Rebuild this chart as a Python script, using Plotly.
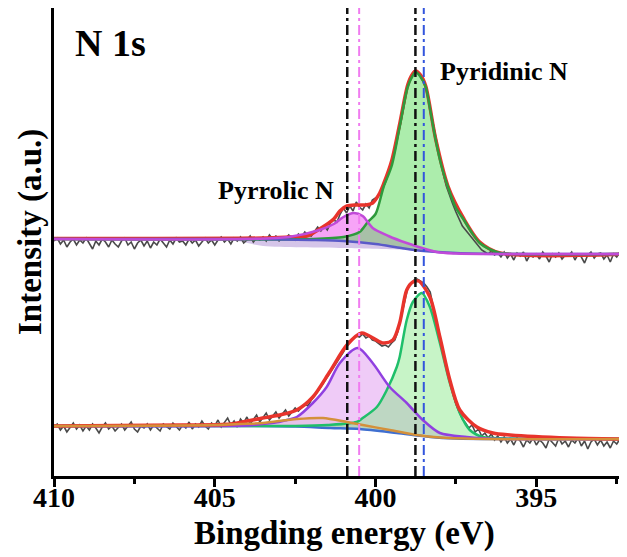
import plotly.graph_objects as go

# ---------------- data (binding energy in eV, intensity in arbitrary units) ----------------
RAW_E = [round(410.0 - 0.1 * k, 1) for k in range(179)]

UP_RAW = [235, 238, 232, 236, 229, 234, 237, 231, 236, 233,
          238, 233, 227, 235, 231, 237, 234, 229, 236, 232,
          229, 235, 238, 231, 234, 227, 233, 236, 230, 235,
          228, 234, 231, 237, 233, 229, 236, 232, 238, 234,
          235, 231, 237, 233, 236, 230, 234, 238, 233, 236,
          231, 236, 239, 234, 237, 232, 238, 235, 239, 233,
          236, 240, 234, 238, 236, 239, 235, 241, 237, 240,
          235, 239, 237, 241, 238, 236, 242, 239, 244, 241,
          240, 245, 249, 245, 250, 246, 253, 256, 254, 262,
          268, 263, 270, 265, 274, 269, 266, 272, 268, 276,
          278, 281, 286, 293, 302, 312, 326, 340, 356, 373,
          390, 398, 405, 404, 400, 394, 384, 367, 350, 333,
          318, 303, 290, 280, 272, 264, 257, 250, 246, 242,
          238, 233, 229, 226, 224, 222, 225, 221, 223, 219,
          224, 218, 222, 216, 223, 220, 224, 215, 221, 219,
          222, 217, 224, 220, 214, 222, 219, 223, 217, 221,
          220, 224, 216, 222, 219, 213, 221, 224, 218, 222,
          223, 217, 221, 214, 222, 219, 224, 216, 221]

LO_RAW = [49, 52, 46, 50, 44, 48, 53, 47, 51, 45,
          50, 46, 52, 48, 43, 49, 53, 47, 50, 45,
          48, 52, 46, 50, 54, 47, 44, 50, 48, 52,
          46, 51, 48, 45, 52, 49, 47, 53, 50, 46,
          51, 48, 54, 47, 52, 49, 55, 50, 47, 53,
          50, 56, 49, 54, 58, 51, 55, 49, 57, 53,
          59, 52, 56, 61, 54, 58, 63, 56, 60, 64,
          58, 62, 66, 60, 64, 68, 65, 69, 72, 70,
          76, 80, 84, 89, 94, 99, 103, 109, 114, 119,
          124, 130, 134, 137, 140, 139, 142, 138, 140, 136,
          135, 132, 130, 131, 129, 133, 136, 145, 159, 174,
          188, 192, 196, 197, 195, 193, 189, 184, 168, 155,
          140, 124, 108, 95, 83, 72, 64, 57, 53, 48,
          51, 44, 47, 40, 43, 38, 42, 36, 40, 34,
          39, 33, 37, 31, 38, 35, 29, 36, 33, 38,
          31, 36, 33, 28, 37, 34, 30, 38, 32, 35,
          29, 36, 33, 38, 30, 35, 27, 34, 37, 31,
          36, 30, 34, 28, 35, 32, 37, 29, 34]

# upper spectrum fit curves
UP_BG_E = [410.0, 404.0, 402.0, 401.0, 400.0, 399.2, 398.5, 397.5, 396.0, 392.2]
UP_BG_I = [237, 237, 236, 235, 232, 228, 225, 223, 222, 222]

UP_BAND_E = [410.0, 404.5, 403.5, 401.0, 399.0, 398.3, 397.5, 392.2]
UP_BAND_I = [237, 236, 230, 228, 226, 224, 222.5, 222]

UP_PYRR_E = [410.0, 404.0, 402.7, 401.74, 401.3, 401.0, 400.68, 400.4, 400.09, 399.6,
             399.03, 398.1, 397.5, 396.0, 392.2]
UP_PYRR_I = [237, 237, 239, 246, 252, 259, 263, 260, 248, 240,
             233, 224, 222.5, 222, 222]

UP_PYRI_E = [410.0, 402.0, 401.0, 400.5, 400.24, 400.0, 399.75, 399.5, 399.25, 399.0,
             398.85, 398.75, 398.62, 398.44, 398.3, 398.13, 397.95, 397.75, 397.5, 397.25,
             397.0, 396.76, 396.4, 396.13, 395.5, 392.2]
UP_PYRI_I = [237, 237, 239, 244, 254, 262, 289, 310, 349, 389,
             400, 404, 400, 389, 366, 336, 310, 289, 268, 256,
             243, 233, 226, 223, 222, 222]

UP_ENV_E = [410.0, 403.5, 402.7, 402.14, 401.74, 401.3, 401.11, 400.89, 400.6, 400.3,
            400.09, 399.87, 399.75, 399.5, 399.25, 399.0, 398.85, 398.75, 398.6, 398.44,
            398.13, 397.75, 397.25, 396.76, 396.13, 392.2]
UP_ENV_I = [237.5, 238, 239, 240, 247, 257, 265, 270, 271, 271,
            273, 283, 292, 315, 352, 391, 402, 405, 401, 390,
            337, 290, 257, 234, 223, 222]

# lower spectrum fit curves
LO_BG_E = [410.0, 404.0, 402.5, 401.4, 400.5, 399.34, 398.3, 397.5, 396.0, 392.2]
LO_BG_I = [50, 50, 49.5, 48, 47, 43, 39, 37.5, 37, 37]

LO_ORG_E = [410.0, 405.0, 404.2, 403.51, 402.45, 401.64, 400.89, 400.4, 399.56, 398.72,
            398.0, 396.5, 392.2]
LO_ORG_I = [50, 51, 52, 53, 57, 58, 54, 51, 46, 41,
            38.5, 37, 37]

LO_PYRR_E = [410.0, 404.0, 403.5, 403.0, 402.76, 402.45, 401.95, 401.52, 401.11, 400.55,
             400.09, 399.56, 399.03, 398.53, 398.0, 397.16, 396.0, 392.2]
LO_PYRR_I = [50, 50.5, 52, 54, 56, 59, 73, 89, 113, 128,
             113, 89, 73, 56, 43, 39, 37, 37]

LO_PYRI_E = [410.0, 402.5, 401.5, 400.59, 400.4, 399.96, 399.65, 399.34, 399.25, 399.03,
             398.84, 398.56, 398.31, 398.0, 397.69, 397.38, 397.07, 396.66, 396.0, 392.2]
LO_PYRI_I = [50, 50, 51, 54, 58, 69, 86, 109, 119, 156,
             174, 183, 169, 133, 93, 63, 46, 39, 37.5, 37]

LO_ENV_E = [410.0, 406.0, 404.5, 403.51, 402.98, 402.45, 401.95, 401.43, 400.89, 400.43,
            399.78, 399.46, 399.25, 399.03, 398.84, 398.66, 398.31, 398.0, 397.69, 397.38,
            396.85, 396.35, 395.82, 394.0, 392.2]
LO_ENV_I = [50, 51, 52, 58, 61, 66, 79, 104, 131, 143,
            133, 136, 153, 186, 194, 195, 179, 139, 96, 66,
            49, 43, 41, 38, 37]

REF_LINES_E = [400.88, 400.51, 398.76, 398.50]
X_TICKS = [410, 405, 400, 395]
X_MINOR = [407.5, 402.5, 397.5, 392.5]

# ---------------- figure ----------------
SERIF = "Liberation Serif"
SMOOTH = 0.8
fig = go.Figure()


def hidden(x, y):
    fig.add_trace(go.Scatter(x=x, y=y, mode="lines",
                             line=dict(width=0, shape="spline", smoothing=SMOOTH),
                             showlegend=False, hoverinfo="skip"))


def filled(x, y, color):
    fig.add_trace(go.Scatter(x=x, y=y, mode="lines",
                             line=dict(width=0, shape="spline", smoothing=SMOOTH),
                             fill="tonexty", fillcolor=color, showlegend=False, hoverinfo="skip"))


def curve(x, y, color, width):
    fig.add_trace(go.Scatter(x=x, y=y, mode="lines",
                             line=dict(color=color, width=width, shape="spline", smoothing=SMOOTH),
                             showlegend=False, hoverinfo="skip"))


# upper fills
hidden(UP_BAND_E, UP_BAND_I)
filled(UP_BG_E, UP_BG_I, "rgba(150,110,200,0.40)")
hidden(UP_BG_E, UP_BG_I)
filled(UP_PYRR_E, UP_PYRR_I, "rgba(240,90,240,0.55)")
hidden(UP_BG_E, UP_BG_I)
filled(UP_PYRI_E, UP_PYRI_I, "rgba(90,220,90,0.5)")

# lower fills
hidden(LO_BG_E, LO_BG_I)
filled(LO_ORG_E, LO_ORG_I, "rgba(200,190,170,0.35)")
hidden(LO_BG_E, LO_BG_I)
filled(LO_PYRR_E, LO_PYRR_I, "rgba(225,160,240,0.55)")
hidden(LO_BG_E, LO_BG_I)
filled(LO_PYRI_E, LO_PYRI_I, "rgba(130,230,130,0.45)")

# raw data
fig.add_trace(go.Scatter(x=RAW_E, y=UP_RAW, mode="lines", line=dict(color="#4a4a4a", width=1.6),
                         showlegend=False, hoverinfo="skip"))
fig.add_trace(go.Scatter(x=RAW_E, y=LO_RAW, mode="lines", line=dict(color="#4a4a4a", width=1.6),
                         showlegend=False, hoverinfo="skip"))

# upper lines
curve(UP_ENV_E, UP_ENV_I, "#e8342c", 3.5)
curve(UP_PYRI_E, UP_PYRI_I, "#2e9a3c", 2.5)
curve(UP_BG_E, UP_BG_I, "#5a5ac8", 2.5)
curve(UP_PYRR_E, UP_PYRR_I, "#c04ad8", 2.5)

# lower lines
curve(LO_BG_E, LO_BG_I, "#3f6fd0", 2.5)
curve(LO_PYRI_E, LO_PYRI_I, "#1fbf6a", 2.5)
curve(LO_PYRR_E, LO_PYRR_I, "#9040e0", 2.5)
curve(LO_ENV_E, LO_ENV_I, "#e8342c", 3.5)
curve(LO_ORG_E, LO_ORG_I, "#d4903a", 2.5)

# reference dash-dot lines
line_styles = [("#111111", 2.5), ("#f07cf0", 2), ("#111111", 2.5), ("#3355dd", 2)]
for e, (col, w) in zip(REF_LINES_E, line_styles):
    fig.add_shape(type="line", xref="x", yref="paper", x0=e, x1=e, y0=0, y1=1,
                  line=dict(color=col, width=w, dash="10px,4px,3px,4px"), layer="above")

# annotations
fig.add_annotation(x=408.25, y=433, xref="x", yref="y", text="N 1s", showarrow=False,
                   font=dict(family=SERIF, size=38, color="black", weight="bold"))
fig.add_annotation(x=396.0, y=405, xref="x", yref="y", text="Pyridinic N", showarrow=False,
                   font=dict(family=SERIF, size=26, color="black", weight="bold"))
fig.add_annotation(x=403.11, y=286, xref="x", yref="y", text="Pyrrolic N", showarrow=False,
                   font=dict(family=SERIF, size=26, color="black", weight="bold"))
# axis titles
fig.add_annotation(x=0.5, y=0, xref="paper", yref="paper", yanchor="middle", yshift=-57, xshift=4,
                   text="Bingding energy (eV)", showarrow=False,
                   font=dict(family=SERIF, size=33, color="black", weight="bold"))
fig.add_annotation(x=0, y=0.5, xref="paper", yref="paper", xanchor="center", yanchor="middle",
                   xshift=-24, yshift=10, textangle=-90,
                   text="Intensity (a.u.)", showarrow=False,
                   font=dict(family=SERIF, size=33, color="black", weight="bold"))

# the page body adds an 8 px offset; margins compensate so the plot box sits at 54..627 x 8..476
fig.update_layout(
    width=627, height=557,
    margin=dict(l=46, r=8, t=0, b=89),
    paper_bgcolor="white", plot_bgcolor="white",
    showlegend=False,
    xaxis=dict(
        range=[410, 392.18], tickvals=X_TICKS, ticktext=[str(v) for v in X_TICKS],
        ticks="outside", ticklen=8, tickwidth=2.5, tickcolor="black",
        showline=True, linewidth=3, linecolor="black", mirror=True,
        showgrid=False, zeroline=False,
        minor=dict(tickvals=X_MINOR, ticks="outside", ticklen=5, tickwidth=2.5, tickcolor="black"),
        tickfont=dict(family=SERIF, size=28, color="black", weight="bold"),
        ticklabelstandoff=-14,
        automargin=False,
    ),
    yaxis=dict(
        range=[0, 468], showticklabels=False, ticks="",
        showline=True, linewidth=3, linecolor="black",
        showgrid=False, zeroline=False, automargin=False,
    ),
)

fig.write_html("out.html")
